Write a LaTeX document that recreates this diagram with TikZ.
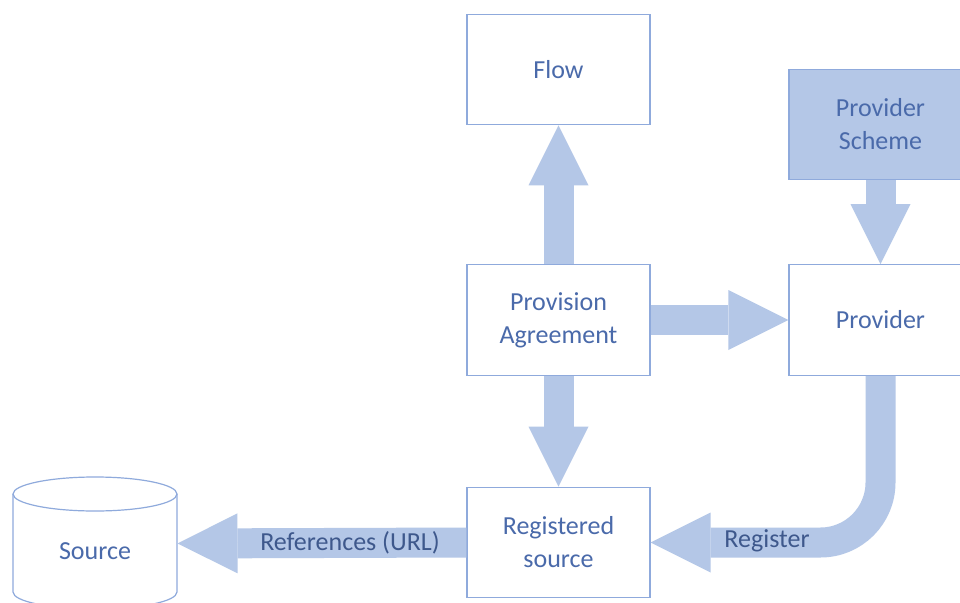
\documentclass[tikz,border=0pt]{standalone}
\usepackage{fontspec}
\setmainfont{Carlito}
\usetikzlibrary{arrows.meta,calc}
\definecolor{boxline}{RGB}{143,170,220}
\definecolor{arrowfill}{RGB}{180,199,231}
\definecolor{boxtext}{RGB}{74,106,170}
\definecolor{labeltext}{RGB}{62,88,140}
\tikzset{
  box/.style={draw=boxline, line width=0.9pt, fill=white, minimum width=137.25pt, minimum height=83pt,
    inner sep=0pt, align=center, text=boxtext, font=\fontsize{19.5}{24.75}\selectfont},
  filledbox/.style={box, fill=arrowfill},
  blk/.style={draw=arrowfill, line width=22.5pt, -{Triangle[length=45pt,width=45pt,line width=0pt]}},
  lbl/.style={text=labeltext, font=\fontsize{19.5}{24.75}\selectfont, inner sep=0pt}
}
\begin{document}
\begin{tikzpicture}[x=0.75pt,y=-0.75pt]
\useasboundingbox (0,0) rectangle (960,603);
\clip (0,0) rectangle (960,603);
\fill[white] (0,0) rectangle (960,603);
% boxes
\node[box] (flow) at (558.5,69.5) {Flow};
\node[filledbox] (ps) at (880.5,124.5) {Provider\\Scheme};
\node[box] (pa) at (558.5,320) {Provision\\Agreement};
\node[box] (prov) at (880.5,320) {Provider};
\node[box] (rs) at (558.5,542.5) {Registered\\source};
% source cylinder
\draw[boxline, line width=0.9pt, fill=white]
  (13,494) -- (13,592) arc[start angle=180, end angle=360, x radius=82, y radius=-17]
  -- (177,494);
\draw[boxline, line width=0.9pt, fill=white] (95,494) ellipse[x radius=82, y radius=17];
\node[text=boxtext, font=\fontsize{19.5}{24.75}\selectfont, inner sep=0pt] (src) at (95,551) {Source};
\coordinate (srcE) at (177.5,543.5);
% block arrows
\draw[blk] (pa.north) -- (flow.south);
\draw[blk] (pa.south) -- (rs.north);
\draw[blk] (pa.east) -- (prov.west);
\draw[blk] (ps.south) -- (prov.north);
\draw[blk, rounded corners=45pt] (prov.south) -- (prov.south |- rs.east) -- (rs.east);
\draw[blk] (rs.west) -- (srcE);
% labels
\node[lbl] (lref) at (350,543) {References (URL)};
\node[lbl] (lreg) at (767,541) {Register};
\end{tikzpicture}
\end{document}
